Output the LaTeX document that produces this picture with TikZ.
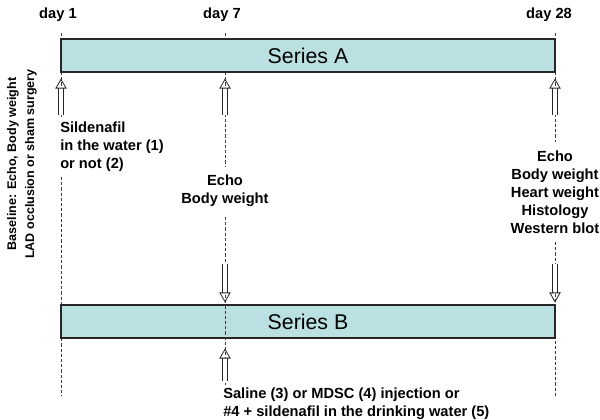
\documentclass[tikz,border=0pt]{standalone}
\usepackage{fontspec}
\setmainfont{Liberation Sans}
\usetikzlibrary{arrows.meta}

\definecolor{boxblue}{RGB}{186,224,226}
\definecolor{guide}{RGB}{60,60,60}

\tikzset{
	series/.style={draw=black!85, fill=boxblue, line width=0.8pt, minimum width=370.5pt, minimum height=24.75pt, inner sep=0pt, font=\fontsize{16}{18}\selectfont},
	lbl/.style={font=\bfseries\fontsize{11}{13.5}\selectfont, inner sep=0pt},
	guideline/.style={guide, dash pattern=on 2.4pt off 1.5pt, line width=0.6pt},
	hollow/.style={draw=black!85, double=white, double distance=2.6pt, line width=0.6pt, -{Triangle[open, length=7.5pt, width=8.5pt]}}
}

\begin{document}
\begin{tikzpicture}[x=0.75pt, y=-0.75pt]
	\useasboundingbox (0,0) rectangle (600,420);

	% guides
	\foreach \x in {61, 225, 555}{
		\draw[guideline] (\x,33) -- (\x,40);
	}
	\draw[guideline] (61,72) -- (61,118);
	\draw[guideline] (225,72) -- (225,167);
	\draw[guideline] (555,72) -- (555,142);
	\draw[guideline] (61,177) -- (61,396);
	\draw[guideline] (555,242) -- (555,396);

	\node[series] (serA) at (308,55.5) {Series A};
	\node[series] (serB) at (308,321.5) {Series B};
	\draw[guideline] (225,217) -- (225,385);

	% days
	\node[lbl] (day1) at (58,15) {day 1};
	\node[lbl] (day7) at (222,15) {day 7};
	\node[lbl] (day28) at (549,15) {day 28};

	\node[lbl, font=\bfseries\fontsize{9.4}{13.5}\selectfont, align=center, rotate=90] (base) at (22,164) {Baseline: Echo, Body weight\\LAD occlusion or sham surgery};
	\node[lbl, align=left, anchor=north west] (sil) at (60,122) {Sildenafil\\in the water (1)\\or not (2)};
	\node[lbl, align=center] (echo7) at (225,191) {Echo\\Body weight};
	\node[lbl, align=center] (echo28) at (555,192) {Echo\\Body weight\\Heart weight\\Histology\\Western blot};
	\node[lbl, align=left, anchor=north west] (inj) at (223,388) {Saline (3) or MDSC (4) injection or\\\#4 + sildenafil in the drinking water (5)};

	% arrows
	\coordinate (a1) at (61,115);
	\coordinate (a7) at (225,115);
	\coordinate (a28) at (555,115);
	\coordinate (b7) at (225,264);
	\coordinate (b28) at (555,264);
	\coordinate (c7) at (225,381);
	\foreach \a in {a1, a7, a28}{
		\draw[hollow] (\a) -- ([yshift=-4.5pt]serA.south -| \a);
	}
	\draw[hollow] (b7) -- ([yshift=1.5pt]serB.north -| b7);
	\draw[hollow] (b28) -- ([yshift=1.5pt]serB.north -| b28);
	\draw[hollow] (c7) -- ([yshift=-7.5pt]serB.south -| c7);

\end{tikzpicture}
\end{document}
